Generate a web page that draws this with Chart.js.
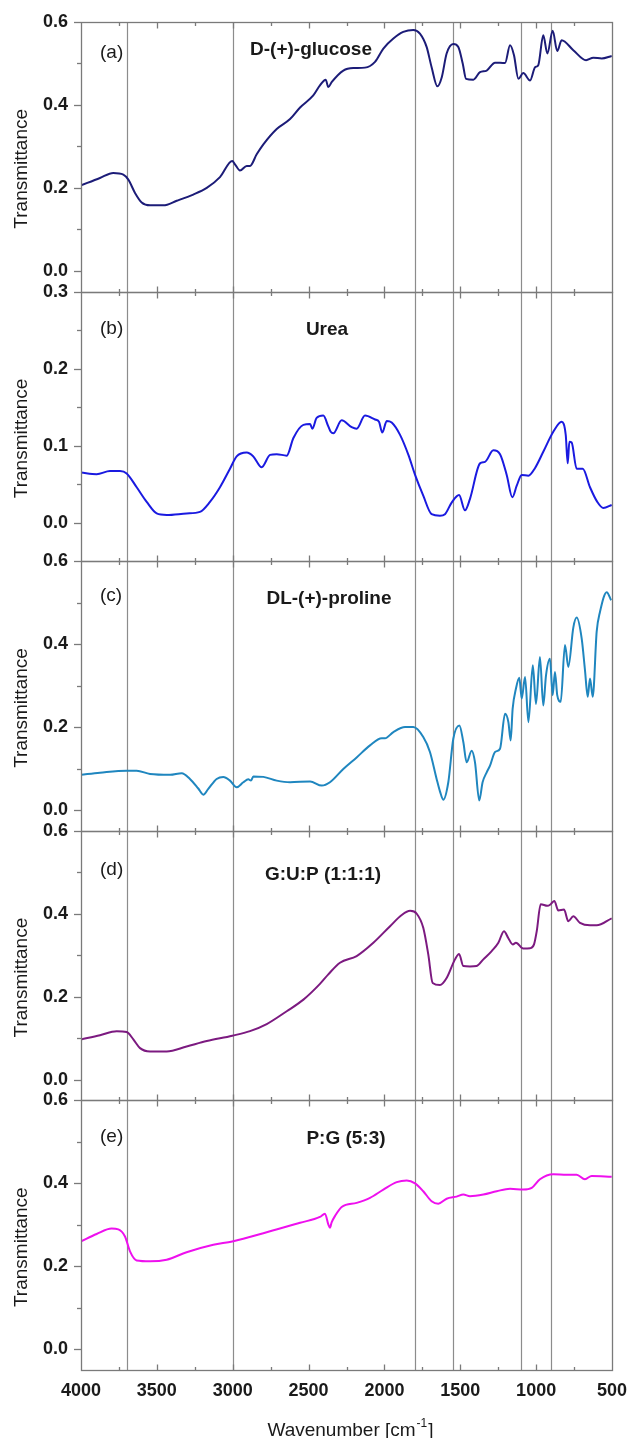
<!DOCTYPE html>
<html>
<head>
<meta charset="utf-8">
<script src="https://cdn.jsdelivr.net/npm/chart.js@4.4.1/dist/chart.umd.min.js"></script>
<style>
  html, body { margin: 0; padding: 0; background: #fff; }
</style>
</head>
<body>
<canvas id="plot" width="629" height="1438"></canvas>
<script>
// FTIR spectra, wavenumber in cm-1 (descending) and transmittance
const glucoseWn = [4000, 3875, 3787, 3721, 3688, 3644, 3600, 3545, 3457, 3369, 3260, 3171, 3084, 3003, 2985,
  2952, 2908, 2886, 2842, 2798, 2710, 2622, 2556, 2469, 2425, 2387, 2370, 2348, 2271, 2205, 2128, 2062, 2007,
  1941, 1876, 1810, 1766, 1722, 1689, 1651, 1622, 1590, 1546, 1513, 1484, 1462, 1414, 1370, 1326, 1271, 1205,
  1172, 1146, 1117, 1085, 1040, 1007, 986, 953, 926, 891, 861, 832, 755, 671, 623, 568, 502];
const glucoseT = [0.206, 0.224, 0.236, 0.232, 0.220, 0.188, 0.165, 0.158, 0.158, 0.169, 0.184, 0.200, 0.226, 0.265, 0.257,
  0.242, 0.253, 0.253, 0.281, 0.305, 0.342, 0.366, 0.394, 0.423, 0.447, 0.461, 0.443, 0.455, 0.483, 0.489, 0.490, 0.504, 0.536,
  0.560, 0.576, 0.581, 0.572, 0.540, 0.491, 0.445, 0.467, 0.524, 0.547, 0.540, 0.500, 0.463, 0.461, 0.479, 0.483, 0.502, 0.501,
  0.544, 0.520, 0.463, 0.477, 0.459, 0.491, 0.496, 0.568, 0.524, 0.579, 0.530, 0.556, 0.532, 0.508, 0.514, 0.512, 0.518];

const ureaWn = [4000, 3897, 3809, 3743, 3699, 3633, 3567, 3501, 3435, 3304, 3216, 3150, 3084, 3018, 2974,
  2908, 2864, 2809, 2754, 2710, 2644, 2600, 2534, 2490, 2475, 2447, 2403, 2370, 2354, 2337, 2282, 2216, 2183,
  2128, 2062, 2036, 2014, 1985, 1952, 1897, 1842, 1798, 1744, 1689, 1634, 1601, 1557, 1508, 1469, 1436, 1370,
  1337, 1282, 1238, 1194, 1157, 1128, 1095, 1051, 1007, 953, 887, 832, 805, 792, 781, 766, 733, 693, 645, 597, 557, 502];
const ureaT = [0.065, 0.063, 0.067, 0.067, 0.064, 0.046, 0.027, 0.012, 0.010, 0.012, 0.014, 0.027, 0.046, 0.070, 0.086,
  0.091, 0.086, 0.072, 0.088, 0.089, 0.087, 0.110, 0.127, 0.128, 0.122, 0.136, 0.139, 0.125, 0.118, 0.116, 0.133, 0.124, 0.122,
  0.139, 0.134, 0.131, 0.117, 0.132, 0.130, 0.114, 0.088, 0.062, 0.035, 0.011, 0.009, 0.011, 0.026, 0.036, 0.016, 0.031, 0.077,
  0.079, 0.094, 0.089, 0.062, 0.033, 0.048, 0.062, 0.061, 0.071, 0.092, 0.118, 0.131, 0.114, 0.077, 0.105, 0.104, 0.070, 0.070,
  0.046, 0.027, 0.019, 0.023];

const prolineWn = [4000, 3875, 3699, 3633, 3545, 3413, 3336, 3282, 3227, 3194, 3161, 3106, 3062, 3018, 2974,
  2930, 2897, 2880, 2864, 2798, 2710, 2622, 2490, 2413, 2359, 2271, 2183, 2095, 2018, 1996, 1941, 1864, 1810,
  1744, 1700, 1656, 1634, 1612, 1579, 1546, 1506, 1480, 1458, 1425, 1403, 1375, 1353, 1326, 1304, 1271, 1238,
  1205, 1183, 1168, 1155, 1133, 1111, 1095, 1073, 1051, 1022, 1001, 975, 953, 935, 909, 891, 876, 861, 838,
  810, 788, 755, 733, 700, 678, 660, 645, 627, 601, 579, 535, 506];
const prolineT = [0.085, 0.090, 0.095, 0.095, 0.087, 0.085, 0.089, 0.075, 0.052, 0.037, 0.051, 0.075, 0.080, 0.071, 0.055,
  0.067, 0.074, 0.071, 0.081, 0.080, 0.071, 0.067, 0.069, 0.059, 0.067, 0.099, 0.127, 0.156, 0.173, 0.173, 0.188, 0.200, 0.200,
  0.176, 0.140, 0.075, 0.045, 0.025, 0.067, 0.172, 0.204, 0.164, 0.115, 0.143, 0.115, 0.023, 0.067, 0.091, 0.107, 0.140, 0.148,
  0.232, 0.212, 0.168, 0.244, 0.293, 0.319, 0.269, 0.321, 0.212, 0.349, 0.256, 0.369, 0.252, 0.325, 0.365, 0.277, 0.333, 0.277, 0.261,
  0.398, 0.345, 0.440, 0.464, 0.414, 0.337, 0.273, 0.317, 0.273, 0.430, 0.478, 0.525, 0.506];

const gupWn = [4000, 3875, 3765, 3699, 3655, 3611, 3545, 3435, 3304, 3171, 3003, 2886, 2776, 2644, 2534,
  2425, 2370, 2293, 2183, 2073, 1963, 1886, 1831, 1787, 1744, 1711, 1682, 1634, 1590, 1535, 1508, 1480, 1436,
  1392, 1348, 1293, 1249, 1212, 1183, 1154, 1133, 1085, 1040, 1014, 996, 970, 926, 904, 880, 854, 816, 788,
  755, 711, 645, 601, 502];
const gupT = [0.097, 0.107, 0.117, 0.115, 0.097, 0.076, 0.068, 0.068, 0.080, 0.093, 0.106, 0.117, 0.134, 0.165, 0.193,
  0.231, 0.254, 0.282, 0.298, 0.330, 0.370, 0.397, 0.407, 0.400, 0.366, 0.302, 0.233, 0.228, 0.245, 0.290, 0.303, 0.274, 0.273,
  0.274, 0.290, 0.310, 0.330, 0.358, 0.341, 0.326, 0.330, 0.316, 0.317, 0.326, 0.358, 0.423, 0.419, 0.423, 0.431, 0.408, 0.410,
  0.382, 0.394, 0.378, 0.372, 0.372, 0.389];

const pgWn = [4000, 3897, 3798, 3754, 3710, 3677, 3633, 3545, 3435, 3304, 3128, 3003, 2776, 2556, 2425,
  2392, 2370, 2359, 2348, 2326, 2282, 2183, 2095, 2007, 1919, 1853, 1798, 1744, 1689, 1645, 1590, 1524, 1480,
  1436, 1348, 1260, 1172, 1085, 1029, 975, 887, 799, 733, 678, 634, 502];
const pgT = [0.260, 0.278, 0.291, 0.289, 0.272, 0.236, 0.214, 0.212, 0.216, 0.234, 0.252, 0.260, 0.282, 0.305, 0.319,
  0.327, 0.301, 0.293, 0.306, 0.321, 0.343, 0.353, 0.365, 0.385, 0.403, 0.407, 0.400, 0.381, 0.357, 0.351, 0.363, 0.368, 0.373,
  0.369, 0.373, 0.381, 0.387, 0.385, 0.389, 0.410, 0.422, 0.421, 0.421, 0.410, 0.418, 0.416];

const xTicks = [4000, 3500, 3000, 2500, 2000, 1500, 1000, 500];
const yTicks = [0, 0.2, 0.4, 0.6];
const ureaTicks = [0, 0.1, 0.2, 0.3];
const markerWn = [3700, 3000, 1800, 1550, 1100, 900];
const panelLetters = ['(a)', '(b)', '(c)', '(d)', '(e)'];
const panelNames = ['D-(+)-glucose', 'Urea', 'DL-(+)-proline', 'G:U:P (1:1:1)', 'P:G (5:3)'];

const FONT = '"Liberation Sans", Arial, sans-serif';
const INK = '#1a1a1a';
const AXIS = '#7a7a7a';

// per panel: scale id, colour, y max, where the texts sit
const panels = [
  {id: 'ya', color: '#1c1c78', max: 0.6, ticks: yTicks, letterDy: 31, nameX: 311, nameDy: 28},
  {id: 'yb', color: '#1a1ae0', max: 0.3, ticks: ureaTicks, letterDy: 37, nameX: 327, nameDy: 38},
  {id: 'yc', color: '#1f86bf', max: 0.6, ticks: yTicks, letterDy: 35, nameX: 329, nameDy: 38},
  {id: 'yd', color: '#7c1a80', max: 0.6, ticks: yTicks, letterDy: 39, nameX: 323, nameDy: 44},
  {id: 'ye', color: '#ee10ee', max: 0.6, ticks: yTicks, letterDy: 36, nameX: 346, nameDy: 38}
];
const series = [[glucoseWn, glucoseT], [ureaWn, ureaT], [prolineWn, prolineT], [gupWn, gupT], [pgWn, pgT]];

const pts = (wn, t) => wn.map((w, i) => ({x: w, y: t[i]}));

const scales = {
  x: {
    type: 'linear', position: 'bottom', reverse: true, min: 500, max: 4000,
    afterBuildTicks: s => { s.ticks = xTicks.map(v => ({value: v})); },
    afterFit: s => { s.height = 68; s.paddingLeft = 0; s.paddingRight = 0; },
    grid: {display: false, drawTicks: false},
    border: {display: false},
    ticks: {padding: 10, color: INK, font: {family: FONT, size: 18, weight: 'bold'}, callback: v => String(v)}
  }
};
panels.forEach((p, i) => {
  scales[p.id] = {
    type: 'linear', position: 'left', stack: 'panels', stackWeight: 1, weight: panels.length - i,
    min: -0.05, max: p.max,
    afterBuildTicks: s => { s.ticks = p.ticks.map(v => ({value: v})); },
    afterFit: s => { s.width = 81; },
    grid: {display: false, drawTicks: true, tickLength: 7},
    border: {display: false},
    ticks: {padding: 6, color: INK, font: {family: FONT, size: 18, weight: 'bold'}, callback: v => v.toFixed(1)}
  };
});

function line(ctx, x1, y1, x2, y2) {
  ctx.beginPath(); ctx.moveTo(x1, y1); ctx.lineTo(x2, y2); ctx.stroke();
}

const decor = {
  id: 'decor',
  beforeDatasetsDraw(chart) {
    const {ctx, chartArea: a, scales: {x}} = chart;
    ctx.save();
    ctx.strokeStyle = '#8c8c8c';
    ctx.lineWidth = 1.2;
    markerWn.forEach(w => {
      const px = Math.round(x.getPixelForValue(w)) + 0.5;
      line(ctx, px, a.top, px, a.bottom);
    });
    ctx.restore();
  },
  afterDraw(chart) {
    const {ctx, chartArea: a, scales: {x}} = chart;
    ctx.save();
    ctx.strokeStyle = AXIS;
    ctx.lineWidth = 1.3;
    const xMinor = xTicks.slice(1).map((v, i) => (v + xTicks[i]) / 2);
    panels.forEach((p, i) => {
      const s = chart.scales[p.id];
      const top = Math.round(s.top) + 0.5, bot = Math.round(s.bottom) + 0.5;
      ctx.strokeRect(Math.round(a.left) + 0.5, top, Math.round(a.right - a.left), bot - top);
      // x ticks pointing inward at top and bottom of each panel
      [[xTicks, 6], [xMinor, 3.5]].forEach(([vals, len]) => {
        vals.forEach(v => {
          if (v === 4000 || v === 500) return;
          const px = Math.round(x.getPixelForValue(v)) + 0.5;
          line(ctx, px, top, px, top + len);
          line(ctx, px, bot, px, bot - len);
        });
      });
      // y ticks pointing outward
      const yMinor = p.ticks.slice(1).map((v, k) => (v + p.ticks[k]) / 2);
      [[p.ticks, 7], [yMinor, 4]].forEach(([vals, len]) => {
        vals.forEach(v => {
          const py = Math.round(s.getPixelForValue(v)) + 0.5;
          line(ctx, a.left - len, py, a.left, py);
        });
      });
      // axis title
      ctx.save();
      ctx.fillStyle = INK;
      ctx.font = '19px ' + FONT;
      ctx.textAlign = 'center';
      ctx.textBaseline = 'middle';
      ctx.translate(22, (s.top + s.bottom) / 2 + 12);
      ctx.rotate(-Math.PI / 2);
      ctx.fillText('Transmittance', 0, 0);
      ctx.restore();
      // panel letter and sample name
      ctx.fillStyle = INK;
      ctx.textBaseline = 'middle';
      ctx.textAlign = 'left';
      ctx.font = '19px ' + FONT;
      ctx.fillText(panelLetters[i], 100, s.top + p.letterDy);
      ctx.textAlign = 'center';
      ctx.font = 'bold 19px ' + FONT;
      ctx.fillText(panelNames[i], p.nameX, s.top + p.nameDy);
    });
    // x axis title with superscript
    ctx.fillStyle = INK;
    ctx.textBaseline = 'alphabetic';
    ctx.textAlign = 'left';
    const main = 'Wavenumber [cm', sup = '-1', end = ']';
    ctx.font = '19px ' + FONT;
    const w1 = ctx.measureText(main).width, w3 = ctx.measureText(end).width;
    ctx.font = '12px ' + FONT;
    const w2 = ctx.measureText(sup).width;
    const tx = (a.left + a.right) / 2 + 3 - (w1 + w2 + w3) / 2;
    const base = 1436;
    ctx.font = '19px ' + FONT;
    ctx.fillText(main, tx, base);
    ctx.font = '12px ' + FONT;
    ctx.fillText(sup, tx + w1 + 1, base - 9);
    ctx.font = '19px ' + FONT;
    ctx.fillText(end, tx + w1 + w2 + 2, base);
    ctx.restore();
  }
};

const chart = new Chart(document.getElementById('plot').getContext('2d'), {
  type: 'line',
  data: {
    datasets: panels.map((p, i) => ({
      label: panelNames[i],
      data: pts(series[i][0], series[i][1]),
      yAxisID: p.id,
      borderColor: p.color,
      borderWidth: 2,
      pointRadius: 0,
      cubicInterpolationMode: 'monotone',
      fill: false
    }))
  },
  options: {
    responsive: false,
    animation: false,
    layout: {padding: {top: 22, right: 17, left: 0, bottom: 0}},
    scales: scales,
    plugins: {legend: {display: false}, tooltip: {enabled: false}}
  },
  plugins: [decor]
});
</script>
</body>
</html>
